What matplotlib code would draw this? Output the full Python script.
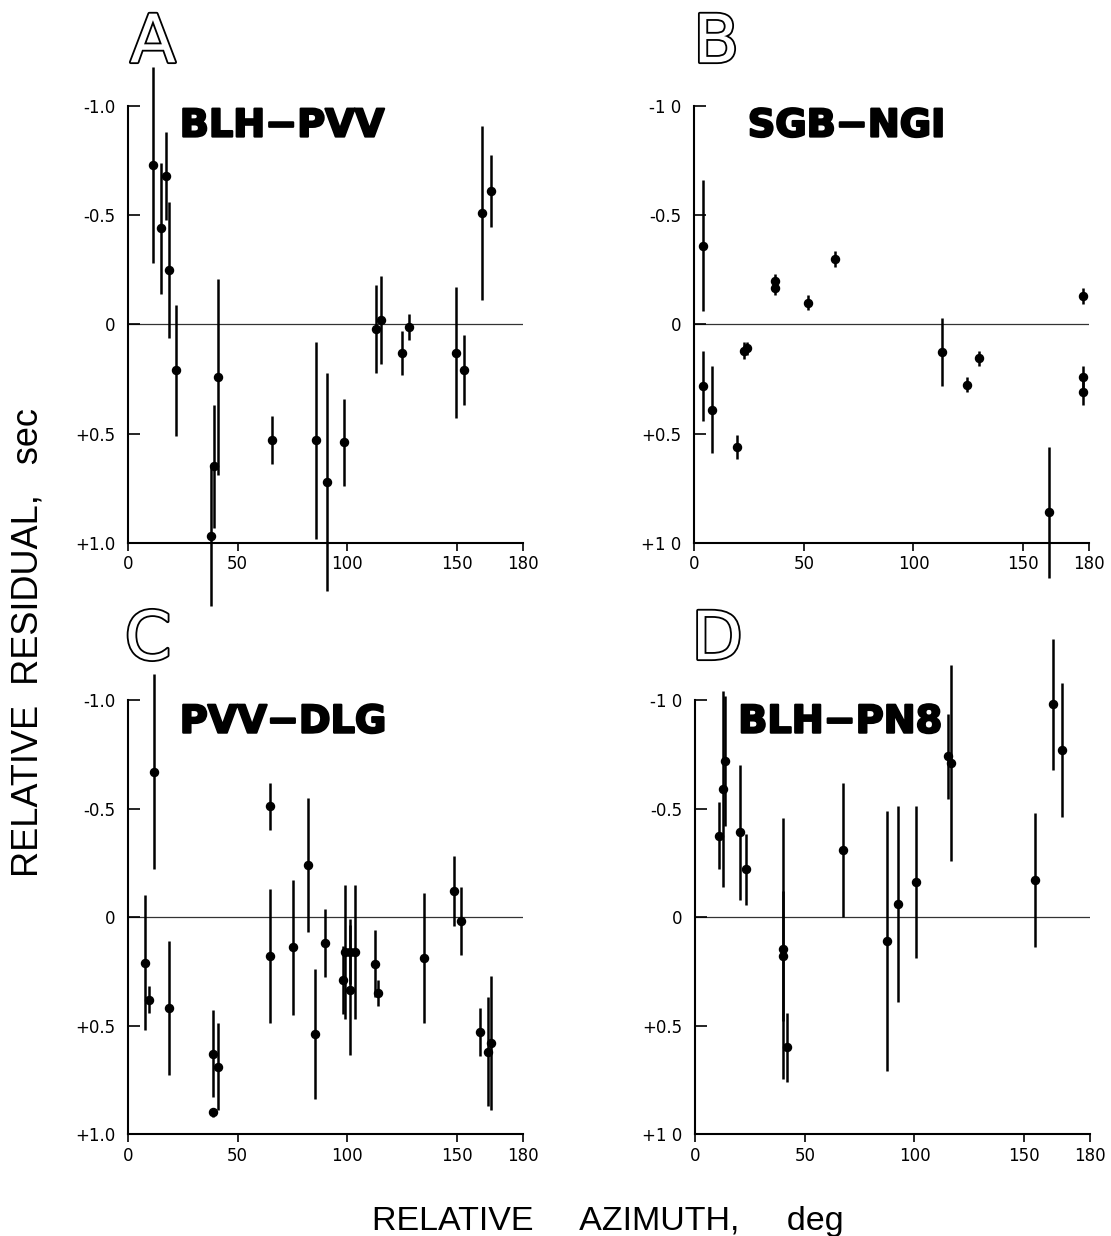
import numpy as np
import matplotlib
matplotlib.use('Agg')
from matplotlib import pyplot as plt
import matplotlib.patheffects as pe

# panel A: BLH-PVV
az_a = [11.5, 14.9, 17.3, 18.8, 22.1, 38.0, 39.2, 40.8, 65.8, 85.8,
        90.8, 98.6, 113.0, 115.3, 124.7, 127.9, 149.4, 153.2, 161.2, 165.3]
res_a = [-0.73, -0.44, -0.68, -0.25, 0.21, 0.97, 0.65, 0.24, 0.53, 0.53,
         0.72, 0.54, 0.02, -0.02, 0.13, 0.01, 0.13, 0.21, -0.51, -0.61]
err_a = [0.45, 0.30, 0.20, 0.31, 0.30, 0.32, 0.28, 0.45, 0.11, 0.45,
         0.50, 0.20, 0.20, 0.20, 0.10, 0.06, 0.30, 0.16, 0.40, 0.165]

# panel B: SGB-NGI
az_b = [4.2, 4.0, 8.2, 19.4, 22.7, 24.0, 37.1, 37.1, 52.1, 64.1,
        113.0, 124.4, 130.0, 161.8, 177.1, 177.1, 177.1]
res_b = [-0.36, 0.28, 0.39, 0.56, 0.12, 0.11, -0.20, -0.165, -0.10, -0.30,
         0.125, 0.275, 0.155, 0.86, -0.13, 0.24, 0.31]
err_b = [0.30, 0.16, 0.20, 0.055, 0.04, 0.03, 0.03, 0.03, 0.035, 0.035,
         0.155, 0.035, 0.035, 0.30, 0.035, 0.05, 0.06]

# panel C: PVV-DLG
az_c = [11.8, 7.9, 9.7, 18.8, 38.6, 38.8, 40.8, 64.9, 64.9, 75.2,
        81.9, 85.2, 90.0, 98.2, 99.1, 101.2, 101.2, 103.6, 112.7, 113.9,
        134.7, 148.6, 151.9, 160.3, 164.1, 165.6]
res_c = [-0.67, 0.21, 0.38, 0.42, 0.90, 0.63, 0.69, -0.51, 0.18, 0.14,
         -0.24, 0.54, 0.12, 0.29, 0.16, 0.16, 0.335, 0.16, 0.215, 0.35,
         0.19, -0.12, 0.02, 0.53, 0.62, 0.58]
err_c = [0.45, 0.31, 0.06, 0.31, 0.02, 0.20, 0.20, 0.11, 0.31, 0.31,
         0.31, 0.30, 0.155, 0.155, 0.31, 0.15, 0.30, 0.31, 0.155, 0.06,
         0.30, 0.16, 0.157, 0.11, 0.25, 0.31]

# panel D: BLH-PN8
az_d = [11.0, 12.9, 13.6, 20.3, 23.2, 39.9, 39.9, 42.1, 67.3, 87.4,
        92.4, 100.8, 115.5, 116.7, 154.9, 163.0, 167.1]
res_d = [-0.375, -0.59, -0.72, -0.39, -0.22, 0.145, 0.18, 0.60, -0.31, 0.11,
         -0.06, -0.16, -0.74, -0.71, -0.17, -0.98, -0.77]
err_d = [0.155, 0.45, 0.30, 0.31, 0.165, 0.60, 0.30, 0.16, 0.31, 0.60,
         0.45, 0.35, 0.195, 0.45, 0.31, 0.30, 0.31]

x_ticks = [0, 50, 100, 150, 180]
y_ticks = [-1.0, -0.5, 0, 0.5, 1.0]
y_labels_ac = ['-1.0', '-0.5', '0', '+0.5', '+1.0']
y_labels_bd = ['-1 0', '-0.5', '0', '+0.5', '+1 0']

panels = [
    ('A', 'BLH\u2212PVV', az_a, res_a, err_a, y_labels_ac),
    ('B', 'SGB\u2212NGI', az_b, res_b, err_b, y_labels_bd),
    ('C', 'PVV\u2212DLG', az_c, res_c, err_c, y_labels_ac),
    ('D', 'BLH\u2212PN8', az_d, res_d, err_d, y_labels_bd),
]

# axes boxes in figure fractions (left, bottom, width, height)
boxes = [
    [0.1152, 0.5607, 0.3555, 0.3536],
    [0.6247, 0.5607, 0.3555, 0.3536],
    [0.1152, 0.0825, 0.3555, 0.3511],
    [0.6256, 0.0825, 0.3555, 0.3511],
]
letter_pos = [(0.1377, 0.965), (0.6445, 0.965), (0.1332, 0.482), (0.6454, 0.482)]
title_pos = [(23.6, -0.86), (24.5, -0.86), (23.6, -0.85), (19.7, -0.85)]

plt.rcParams['font.family'] = ['DejaVu Sans']
fig = plt.figure(figsize=(11.11, 12.36), dpi=100)

for i, (letter, title, az, res, err, ylabs) in enumerate(panels):
    ax = fig.add_axes(boxes[i])
    az = np.array(az)
    res = np.array(res)
    err = np.array(err)

    ax.axhline(0, color='#333333', lw=0.9, zorder=1)
    ax.vlines(az, res - err, res + err, color='black', lw=1.8, clip_on=False, zorder=2)
    ax.plot(az, res, 'o', color='black', ms=5.8, clip_on=False, zorder=3)

    ax.set_xlim(0, 180)
    ax.set_ylim(1.0, -1.0)
    ax.set_xticks(x_ticks)
    ax.set_xticklabels([str(t) for t in x_ticks])
    ax.set_yticks(y_ticks)
    ax.set_yticklabels(ylabs)
    for s in ['top', 'right']:
        ax.spines[s].set_visible(False)
    for s in ['left', 'bottom']:
        ax.spines[s].set_linewidth(1.5)
    ax.tick_params(axis='y', direction='in', length=8.5, width=1.2, pad=9, labelsize=12)
    ax.tick_params(axis='x', direction='out', length=6, width=1.2, pad=3, labelsize=12)
    ax.patch.set_visible(False)

    ax.text(title_pos[i][0], title_pos[i][1], title, fontsize=27.5, fontweight='bold',
            ha='left', va='baseline',
            path_effects=[pe.withStroke(linewidth=1.6, foreground='black')])

    fig.text(letter_pos[i][0], letter_pos[i][1], letter, fontsize=48, color='white',
             ha='center', va='center',
             path_effects=[pe.withStroke(linewidth=2.6, foreground='black')])

lab_font = ['Liberation Sans Narrow', 'Liberation Sans']
fig.text(0.0252, 0.48, 'RELATIVE  RESIDUAL,   sec', rotation=90, ha='center', va='center',
         fontsize=26, family=lab_font)
fig.text(0.547, 0.005, 'RELATIVE     AZIMUTH,     deg', ha='center', va='baseline',
         fontsize=24.5, family=lab_font)

fig.savefig('out.png', dpi=100)
